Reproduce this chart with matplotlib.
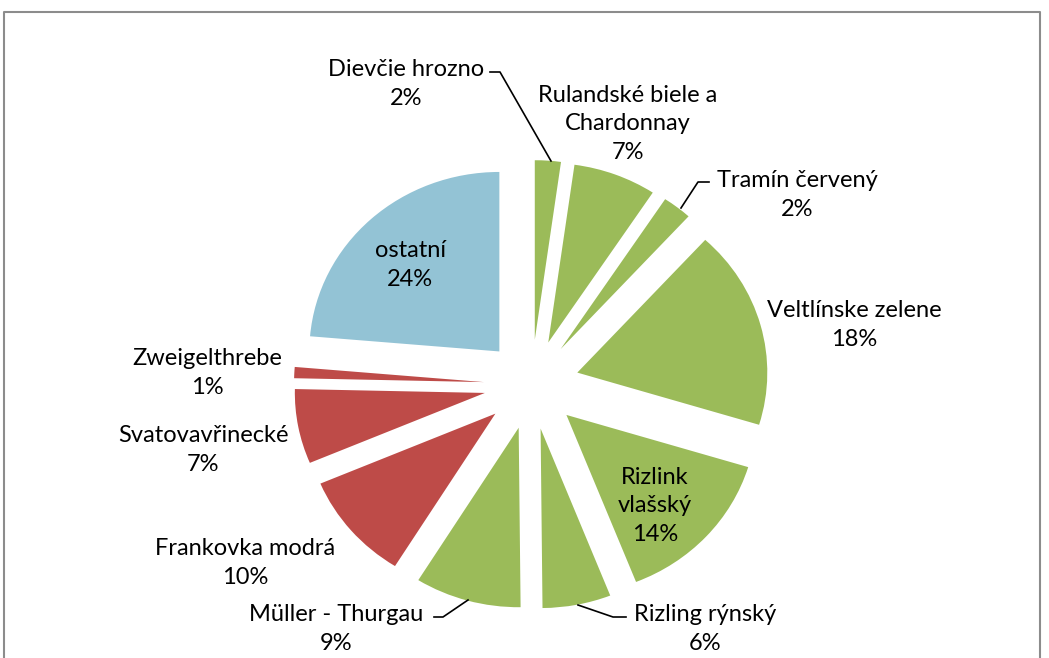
import matplotlib
matplotlib.use("Agg")
import matplotlib.pyplot as plt

# data (clockwise from 12 o'clock), shares in percent
names = ["Dievčie hrozno", "Rulandské biele a\nChardonnay", "Tramín červený",
         "Veltlínske zelene", "Rizlink\nvlašský", "Rizling rýnský",
         "Müller - Thurgau", "Frankovka modrá", "Svatovavřinecké",
         "Zweigelthrebe", "ostatní"]
shares = [2.2, 7.05, 2.48, 17.9, 14.3, 5.8, 9.0, 9.75, 6.7, 1.0, 23.6]
groups = ["white", "white", "white", "white", "white", "white", "white",
          "red", "red", "red", "other"]

group_colors = {"white": "#9BBB59", "red": "#BE4B48", "other": "#93C3D5"}

# label layout in pixels (centre of text block)
label_pos = [(406, 84), (628, 124), (797, 195), (854, 325), (655, 506),
             (705, 629), (336, 629), (245, 563), (203, 450), (207, 373),
             (410, 265)]
# leader lines in pixels
leaders = {
    0: [(490, 72), (500, 72), (551, 161)],
    2: [(709, 182), (698, 182), (681, 208)],
    5: [(578, 605), (613, 617), (626, 617)],
    6: [(434, 617), (443, 617), (468, 600)],
}

W, H = 1049, 658
cx, cy = 531.5, 384.5
rx, ry = 190.0, 179.5

plt.rcParams['font.family'] = ['Lato', 'DejaVu Sans']

fig = plt.figure(figsize=(W / 100, H / 100), dpi=100)
ax = fig.add_axes([0, 0, 1, 1])
ax.pie(shares, colors=[group_colors[g] for g in groups],
       explode=[0.25] * len(shares), startangle=90, counterclock=False,
       radius=1, wedgeprops=dict(linewidth=0))
ax.set_aspect('auto')
ax.set_xlim(-cx / rx, (W - cx) / rx)
ax.set_ylim(-(H - cy) / ry, cy / ry)
ax.axis('off')

# overlay in pixel coordinates for texts, leaders and frame
ov = fig.add_axes([0, 0, 1, 1])
ov.set_xlim(0, W)
ov.set_ylim(H, 0)
ov.axis('off')
ov.patch.set_alpha(0)

total = sum(shares)
for name, share, (x, y) in zip(names, shares, label_pos):
    pct = round(100 * share / total)
    ov.text(x, y, f"{name}\n{pct}%", ha='center', va='center',
            fontsize=17, color='black', linespacing=1.45, multialignment='center')

for pts in leaders.values():
    xs, ys = zip(*pts)
    ov.plot(xs, ys, color='black', lw=1.2)

ov.plot([4, 4, 1040, 1040], [H + 5, 12, 12, H + 5], color='#8c8c8c', lw=1.5)

fig.savefig("out.png", dpi=100)
